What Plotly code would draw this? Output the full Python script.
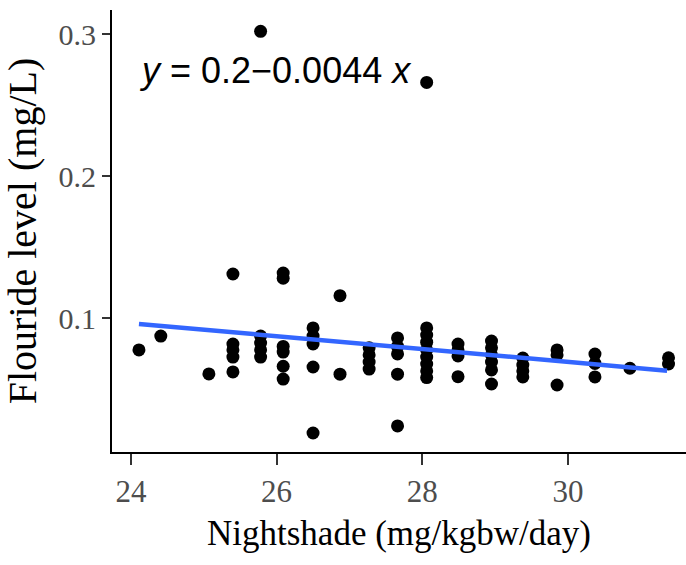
import plotly.graph_objects as go

# Nightshade intake (mg/kgbw/day) and fluoride level (mg/L)
nightshade = [
    24.11,
    24.41,
    25.07,
    25.40, 25.40, 25.40, 25.40, 25.40,
    25.78, 25.78, 25.78, 25.78, 25.78,
    26.09, 26.09, 26.09, 26.09, 26.09, 26.09,
    26.50, 26.50, 26.50, 26.50, 26.50,
    26.87, 26.87,
    27.27, 27.27, 27.27, 27.27,
    27.66, 27.66, 27.66, 27.66, 27.66,
    28.06, 28.06, 28.06, 28.06, 28.06, 28.06, 28.06, 28.06, 28.06,
    28.49, 28.49, 28.49, 28.49,
    28.95, 28.95, 28.95, 28.95, 28.95, 28.95,
    29.38, 29.38, 29.38, 29.38,
    29.85, 29.85, 29.85,
    30.37, 30.37, 30.37,
    30.85,
    31.38, 31.38,
]
fluoride = [
    0.0775,
    0.0873,
    0.0606,
    0.131, 0.0817, 0.0775, 0.0725, 0.062,
    0.302, 0.0873, 0.0824, 0.0775, 0.0725,
    0.1317, 0.128, 0.080, 0.076, 0.066, 0.057,
    0.093, 0.0873, 0.0817, 0.0655, 0.019,
    0.1157, 0.0604,
    0.079, 0.074, 0.069, 0.064,
    0.086, 0.080, 0.0747, 0.0604, 0.024,
    0.266, 0.093, 0.088, 0.083, 0.0775, 0.0725, 0.0676, 0.0627, 0.058,
    0.0817, 0.0775, 0.0733, 0.0587,
    0.0838, 0.079, 0.074, 0.069, 0.0634, 0.0535,
    0.0718, 0.0669, 0.0627, 0.0585,
    0.0775, 0.074, 0.0528,
    0.0746, 0.068, 0.0585,
    0.0646,
    0.072, 0.0676,
]

# fitted regression line end points
fit_x = [24.11, 31.36]
fit_y = [0.0958, 0.0629]

equation_text = "<i>y</i> = 0.2\u22120.0044 <i>x</i>"
x_ticks = [24, 26, 28, 30]
y_ticks = [0.1, 0.2, 0.3]

fig = go.Figure()
fig.add_trace(go.Scatter(
    x=nightshade, y=fluoride, mode="markers",
    marker=dict(color="black", size=13, line=dict(width=0)),
    showlegend=False, hoverinfo="skip"))
fig.add_trace(go.Scatter(
    x=fit_x, y=fit_y, mode="lines",
    line=dict(color="#3366FF", width=4.5),
    showlegend=False, hoverinfo="skip"))

fig.add_annotation(
    x=24.08, y=0.2747, xref="x", yref="y", text=equation_text,
    showarrow=False, xanchor="left", yanchor="middle",
    font=dict(family="Liberation Sans", size=36, color="black"))

serif = "Liberation Serif"
fig.update_layout(
    width=686, height=565,
    margin=dict(l=112, r=0, t=10, b=113),
    paper_bgcolor="white", plot_bgcolor="white",
    xaxis=dict(
        range=[23.74, 31.62], tickvals=x_ticks, ticktext=[str(v) for v in x_ticks],
        showgrid=False, zeroline=False,
        showline=True, linecolor="black", linewidth=2,
        ticks="outside", ticklen=11, tickwidth=2, tickcolor="#333333",
        tickfont=dict(family=serif, size=31, color="#4D4D4D"),
        title=dict(text="Nightshade (mg/kgbw/day)", standoff=12,
                   font=dict(family=serif, size=35, color="black")),
    ),
    yaxis=dict(
        range=[0.0056, 0.317], tickvals=y_ticks, ticktext=[str(v) for v in y_ticks],
        showgrid=False, zeroline=False,
        showline=True, linecolor="black", linewidth=2,
        ticks="outside", ticklen=8, tickwidth=2, tickcolor="#333333",
        tickfont=dict(family=serif, size=30, color="#4D4D4D"),
        title=dict(text="Flouride level (mg/L)", standoff=10,
                   font=dict(family=serif, size=40, color="black")),
    ),
)

fig.write_html("out.html")
